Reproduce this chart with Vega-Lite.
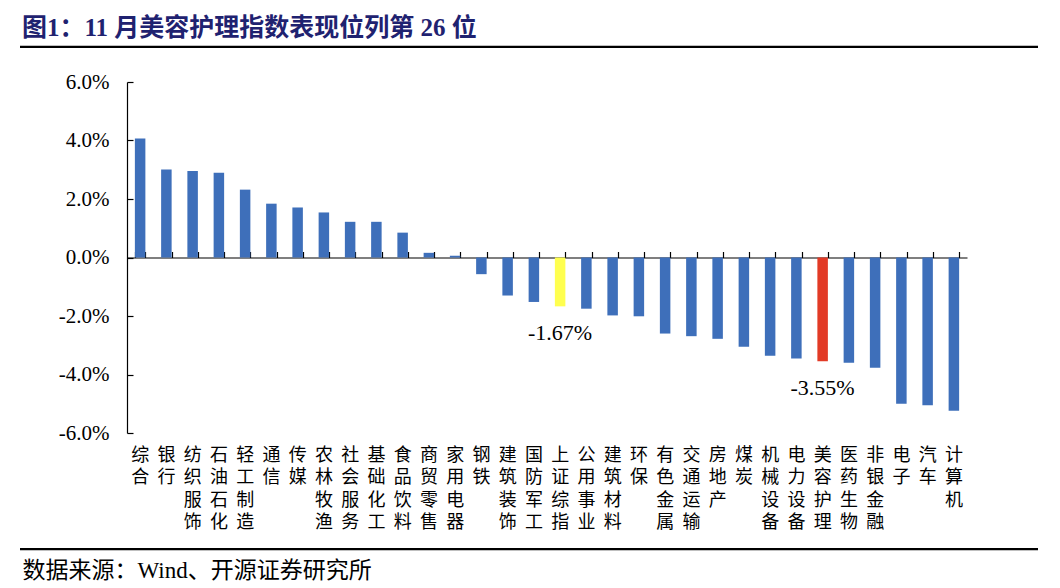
{
  "$schema": "https://vega.github.io/schema/vega-lite/v6.json",
  "width": 1018,
  "height": 351,
  "autosize": "none",
  "padding": {"left": 20, "top": 82, "right": 22, "bottom": 155},
  "background": "white",
  "config": {"view": {"stroke": null}},
  "title": {
    "text": "图1：11 月美容护理指数表现位列第 26 位",
    "anchor": "start",
    "frame": "group",
    "orient": "top",
    "offset": -7,
    "baseline": "middle",
    "dx": 2,
    "fontSize": 25,
    "fontWeight": "bold",
    "color": "#1F2270",
    "font": "Liberation Serif, Noto Sans CJK SC"
  },
  "datasets": {
    "bars": [
      {"name": "综合", "value": 4.07},
      {"name": "银行", "value": 3.01},
      {"name": "纺织服饰", "value": 2.96},
      {"name": "石油石化", "value": 2.90},
      {"name": "轻工制造", "value": 2.32},
      {"name": "通信", "value": 1.84},
      {"name": "传媒", "value": 1.71},
      {"name": "农林牧渔", "value": 1.54},
      {"name": "社会服务", "value": 1.22},
      {"name": "基础化工", "value": 1.22},
      {"name": "食品饮料", "value": 0.85},
      {"name": "商贸零售", "value": 0.16},
      {"name": "家用电器", "value": 0.06},
      {"name": "钢铁", "value": -0.57},
      {"name": "建筑装饰", "value": -1.30},
      {"name": "国防军工", "value": -1.52},
      {"name": "上证综指", "value": -1.67, "note": "-1.67%"},
      {"name": "公用事业", "value": -1.75},
      {"name": "建筑材料", "value": -1.98},
      {"name": "环保", "value": -2.01},
      {"name": "有色金属", "value": -2.60},
      {"name": "交通运输", "value": -2.69},
      {"name": "房地产", "value": -2.78},
      {"name": "煤炭", "value": -3.05},
      {"name": "机械设备", "value": -3.36},
      {"name": "电力设备", "value": -3.45},
      {"name": "美容护理", "value": -3.55, "note": "-3.55%"},
      {"name": "医药生物", "value": -3.60},
      {"name": "非银金融", "value": -3.77},
      {"name": "电子", "value": -5.00},
      {"name": "汽车", "value": -5.05},
      {"name": "计算机", "value": -5.24}
    ]
  },
  "layer": [
    {
      "data": {"name": "bars"},
      "mark": {"type": "bar"},
      "encoding": {
        "x": {
          "field": "name",
          "type": "nominal",
          "sort": null,
          "scale": {"range": [107, 947], "paddingInner": 0.6, "paddingOuter": 0.3},
          "axis": {
            "orient": "bottom",
            "domain": false,
            "ticks": false,
            "grid": false,
            "labelAngle": 0,
            "labelExpr": "split(datum.label, '')",
            "labelFont": "Noto Sans CJK SC",
            "labelFontSize": 18,
            "labelLineHeight": 22.5,
            "labelBaseline": "top",
            "labelPadding": 13,
            "labelColor": "#000000",
            "labelOverlap": false,
            "title": "数据来源：Wind、开源证券研究所",
            "titleX": 2,
            "titleY": 137,
            "titleAlign": "left",
            "titleAnchor": "start",
            "titleBaseline": "middle",
            "titleFont": "Liberation Serif, Noto Sans CJK SC",
            "titleFontSize": 23,
            "titleFontWeight": "normal",
            "titleColor": "#000000"
          }
        },
        "y": {
          "field": "value",
          "type": "quantitative",
          "scale": {"domain": [-6, 6], "nice": false},
          "axis": {
            "orient": "left",
            "offset": -107,
            "values": [-6, -4, -2, 0, 2, 4, 6],
            "labelExpr": "datum.value + '.0%'",
            "tickSize": -6,
            "labelPadding": 24,
            "grid": false,
            "domainColor": "#000000",
            "tickColor": "#000000",
            "domainWidth": 1.2,
            "tickWidth": 1.2,
            "labelFont": "Liberation Serif",
            "labelFontSize": 21,
            "labelColor": "#000000",
            "title": null
          }
        },
        "color": {
          "condition": [
            {"test": "datum.name === '上证综指'", "value": "#FFFF4F"},
            {"test": "datum.name === '美容护理'", "value": "#E23A26"}
          ],
          "value": "#3E6FBA"
        }
      }
    },
    {
      "data": {"name": "bars"},
      "mark": {"type": "bar", "opacity": 0},
      "encoding": {
        "x": {
          "field": "name",
          "type": "nominal",
          "sort": null,
          "axis": {
            "orient": "top",
            "offset": -175.5,
            "labels": false,
            "ticks": true,
            "tickBand": "extent",
            "tickSize": 6,
            "domain": true,
            "domainColor": "#000000",
            "tickColor": "#000000",
            "domainWidth": 1.2,
            "tickWidth": 1.2,
            "grid": false,
            "title": null
          }
        },
        "y": {"field": "value", "type": "quantitative", "scale": {"domain": [-6, 6], "nice": false}}
      }
    },
    {
      "data": {"name": "bars"},
      "transform": [{"filter": "isValid(datum.note)"}],
      "mark": {"type": "text", "baseline": "middle", "align": "center", "dy": 27, "font": "Liberation Serif", "fontSize": 22, "color": "#000000"},
      "encoding": {
        "x": {"field": "name", "type": "nominal", "sort": null, "axis": null},
        "y": {"field": "value", "type": "quantitative", "scale": {"domain": [-6, 6], "nice": false}},
        "text": {"field": "note", "type": "nominal"}
      }
    },
    {
      "data": {"values": [{}]},
      "mark": {"type": "rule", "color": "#000000", "strokeWidth": 2.2},
      "encoding": {
        "y": {"datum": 7.2, "type": "quantitative", "scale": {"domain": [-6, 6], "nice": false}}
      }
    },
    {
      "data": {"values": [{}]},
      "mark": {"type": "rule", "color": "#000000", "strokeWidth": 2.2},
      "encoding": {
        "y": {"datum": -9.97, "type": "quantitative", "scale": {"domain": [-6, 6], "nice": false}}
      }
    }
  ],
  "resolve": {"axis": {"x": "independent"}}
}
